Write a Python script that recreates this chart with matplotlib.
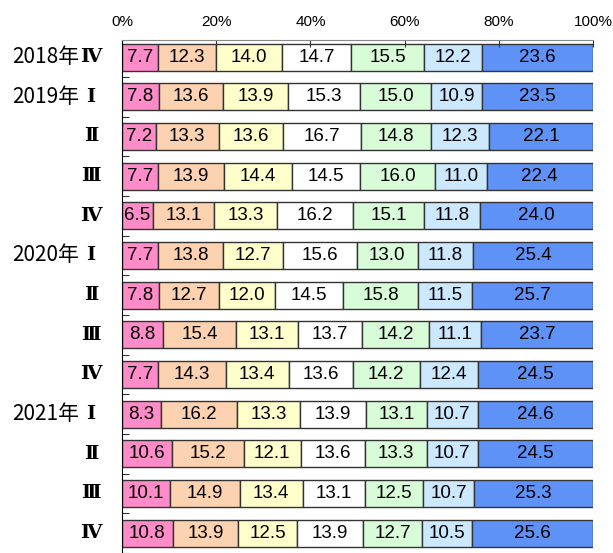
import numpy as np
import matplotlib.pyplot as plt

years = ["2018年", "2019年", "", "", "", "2020年", "", "", "", "2021年", "", "", ""]
quarters = ["Ⅳ", "Ⅰ", "Ⅱ", "Ⅲ", "Ⅳ", "Ⅰ", "Ⅱ", "Ⅲ", "Ⅳ", "Ⅰ", "Ⅱ", "Ⅲ", "Ⅳ"]

s1 = [7.7, 7.8, 7.2, 7.7, 6.5, 7.7, 7.8, 8.8, 7.7, 8.3, 10.6, 10.1, 10.8]
s2 = [12.3, 13.6, 13.3, 13.9, 13.1, 13.8, 12.7, 15.4, 14.3, 16.2, 15.2, 14.9, 13.9]
s3 = [14.0, 13.9, 13.6, 14.4, 13.3, 12.7, 12.0, 13.1, 13.4, 13.3, 12.1, 13.4, 12.5]
s4 = [14.7, 15.3, 16.7, 14.5, 16.2, 15.6, 14.5, 13.7, 13.6, 13.9, 13.6, 13.1, 13.9]
s5 = [15.5, 15.0, 14.8, 16.0, 15.1, 13.0, 15.8, 14.2, 14.2, 13.1, 13.3, 12.5, 12.7]
s6 = [12.2, 10.9, 12.3, 11.0, 11.8, 11.8, 11.5, 11.1, 12.4, 10.7, 10.7, 10.7, 10.5]
s7 = [23.6, 23.5, 22.1, 22.4, 24.0, 25.4, 25.7, 23.7, 24.5, 24.6, 24.5, 25.3, 25.6]

series = [s1, s2, s3, s4, s5, s6, s7]
colors = ["#ff8cc8", "#fcd2b0", "#ffffcc", "#ffffff", "#d8fcd8", "#cce8ff", "#5f92f7"]

fig = plt.figure(figsize=(6.13, 5.53), dpi=100)
ax = fig.add_axes([122 / 613, 0, (593 - 122) / 613, 1 - 40 / 553])

y = np.arange(len(quarters))
left = np.zeros(len(quarters))
for vals, col in zip(series, colors):
    vals = np.array(vals)
    ax.barh(y, vals, left=left, height=0.68, color=col, edgecolor="#333333", linewidth=1)
    for yi, l, v in zip(y, left, vals):
        ax.text(l + v / 2, yi, f"{v:.1f}", ha="center", va="center",
                fontsize=13.5, family="Liberation Sans", color="black")
    left += vals

ax.set_xlim(0, 100)
ax.set_ylim(12.5, -0.43)
ax.xaxis.tick_top()
ax.set_xticks([0, 20, 40, 60, 80, 100])
ax.set_xticklabels(["0%", "20%", "40%", "60%", "80%", "100%"],
                   family="Liberation Sans", fontsize=11)
ax.tick_params(axis="x", direction="in", length=5, pad=8, color="#333333")
ax.set_yticks(y + 0.5)
ax.set_yticklabels([])
ax.tick_params(axis="y", direction="in", length=5, color="#333333")

ax.spines["right"].set_visible(False)
ax.spines["bottom"].set_visible(False)
ax.spines["top"].set_color("#888888")
ax.spines["left"].set_color("black")

# row labels: year text + roman numeral
for yi, yr, q in zip(y, years, quarters):
    yf = ax.transData.transform((0, yi))[1]
    yfig = yf / fig.bbox.height
    if yr:
        fig.text(79 / 613, yfig, yr, ha="right", va="center", fontsize=15,
                 family=["Noto Sans CJK JP", "DejaVu Sans"])
    fig.text(91 / 613, yfig, q, ha="center", va="center", fontsize=14,
             fontweight="bold", family=["DejaVu Serif", "Noto Sans CJK JP"])

fig.savefig("out.png", dpi=100)
